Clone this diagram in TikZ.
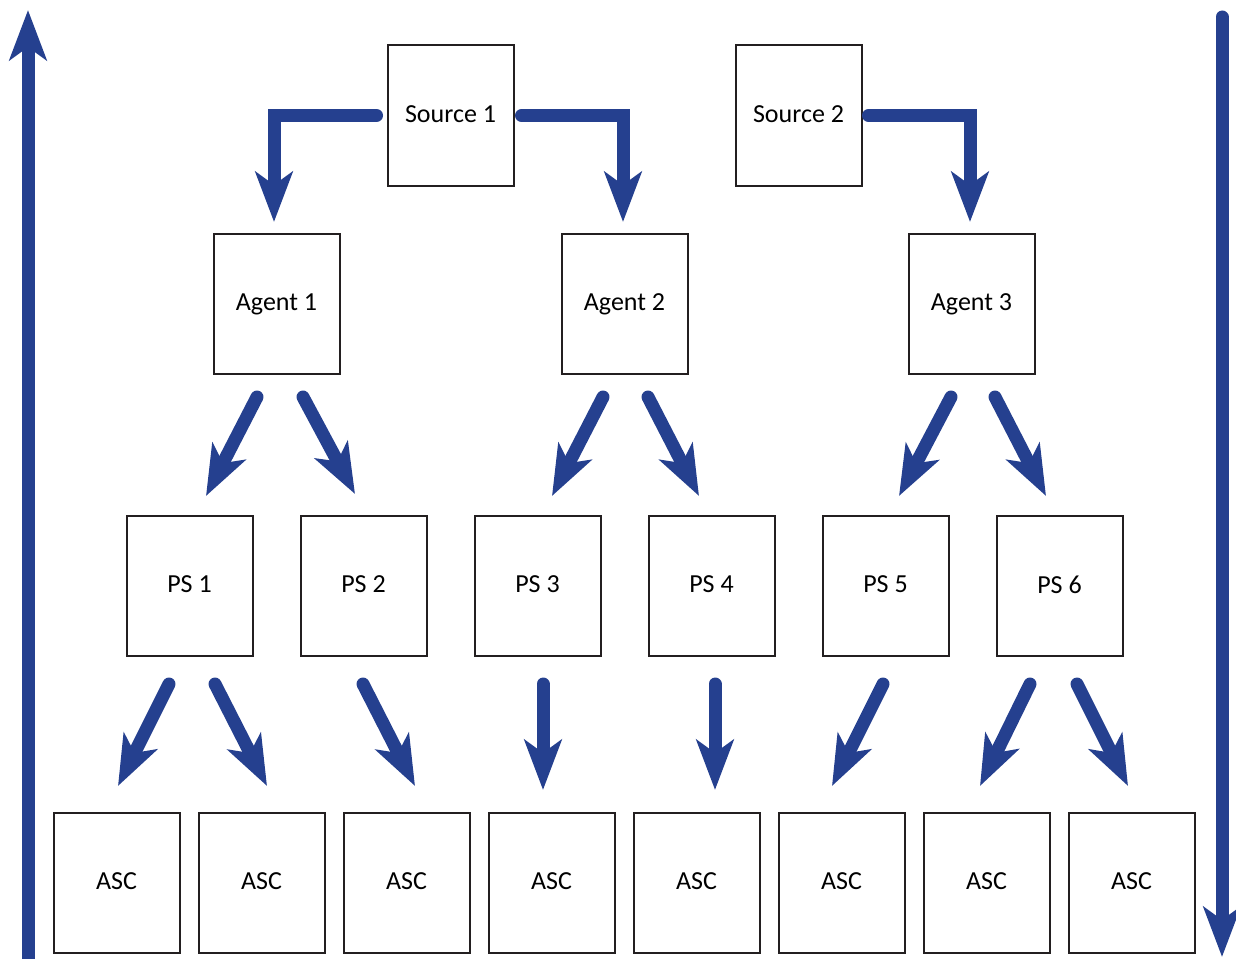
\documentclass[tikz,border=0pt]{standalone}
\usepackage{fontspec}
\setmainfont{Carlito}
\usetikzlibrary{arrows.meta,calc}
\definecolor{arrblue}{RGB}{37,64,143}
\definecolor{boxline}{RGB}{35,31,32}
\tikzset{
  box/.style={draw=boxline, line width=2pt, minimum width=126pt, minimum height=140pt, inner sep=0pt, text depth=3pt, font=\fontsize{26}{30}\selectfont},
  arr/.style={draw=arrblue, line width=13pt, line cap=round, line join=miter, -{Stealth[length=50pt,width=37pt,inset=13pt]}},
}
\begin{document}
\begin{tikzpicture}[x=1pt,y=-1pt]
\useasboundingbox (0,0) rectangle (1236,958);
% boxes
\node[box] (s1) at (450.5,115.5) {Source 1};
\node[box] (s2) at (798.5,115.5) {Source 2};
\node[box] (a1) at (276.5,304) {Agent 1};
\node[box] (a2) at (624.5,304) {Agent 2};
\node[box] (a3) at (971.5,304) {Agent 3};
\node[box] (p1) at (189.5,586) {PS 1};
\node[box] (p2) at (363.5,586) {PS 2};
\node[box] (p3) at (537.5,586) {PS 3};
\node[box] (p4) at (711.5,586) {PS 4};
\node[box] (p5) at (885.5,586) {PS 5};
\node[box] (p6) at (1059.5,586) {PS 6};
\node[box] (c1) at (116.5,883) {ASC};
\node[box] (c2) at (261.5,883) {ASC};
\node[box] (c3) at (406.5,883) {ASC};
\node[box] (c4) at (551.5,883) {ASC};
\node[box] (c5) at (696.5,883) {ASC};
\node[box] (c6) at (841.5,883) {ASC};
\node[box] (c7) at (986.5,883) {ASC};
\node[box] (c8) at (1131.5,883) {ASC};
% source arrows
\draw[arr] ($(s1.west)+(-10,0)$) -| ($(a1.north)+(-2.5,-11)$);
\draw[arr] ($(s1.east)+(7,0)$) -| ($(a2.north)+(-1.5,-11)$);
\draw[arr] ($(s2.east)+(6,0)$) -| ($(a3.north)+(-1.5,-11)$);
% agent -> PS
\draw[arr] ($(a1.south)+(-19.5,22)$) -- ($(p1.north)+(16.5,-19)$);
\draw[arr] ($(a1.south)+(26.5,22)$) -- ($(p2.north)+(-8.5,-21)$);
\draw[arr] ($(a2.south)+(-21.5,22)$) -- ($(p3.north)+(14.5,-19)$);
\draw[arr] ($(a2.south)+(23.5,22)$) -- ($(p4.north)+(-12.5,-19)$);
\draw[arr] ($(a3.south)+(-20.5,22)$) -- ($(p5.north)+(13.5,-19)$);
\draw[arr] ($(a3.south)+(23.5,22)$) -- ($(p6.north)+(-13.5,-19)$);
% PS -> ASC
\draw[arr] ($(p1.south)+(-20.5,27)$) -- ($(c1.north)+(1.5,-26)$);
\draw[arr] ($(p1.south)+(25.5,27)$) -- ($(c2.north)+(5.5,-26)$);
\draw[arr] ($(p2.south)+(-0.5,27)$) -- ($(c3.north)+(8.5,-26)$);
\draw[arr] ($(p3.south)+(5.5,27)$) -- ($(c4.north)+(-8.5,-22)$);
\draw[arr] ($(p4.south)+(3.5,27)$) -- ($(c5.north)+(18.5,-22)$);
\draw[arr] ($(p5.south)+(-2.5,27)$) -- ($(c6.north)+(-9.5,-26)$);
\draw[arr] ($(p6.south)+(-29.5,27)$) -- ($(c7.north)+(-6.5,-26)$);
\draw[arr] ($(p6.south)+(17.5,27)$) -- ($(c8.north)+(-3.5,-26)$);
% side arrows
\coordinate (lb) at (28,975);
\coordinate (lt) at (28,10);
\coordinate (rt) at (1222,17);
\coordinate (rb) at (1222,957);
\draw[arr, line cap=butt] (lb) -- (lt);
\draw[arr] (rt) -- (rb);
\end{tikzpicture}
\end{document}
